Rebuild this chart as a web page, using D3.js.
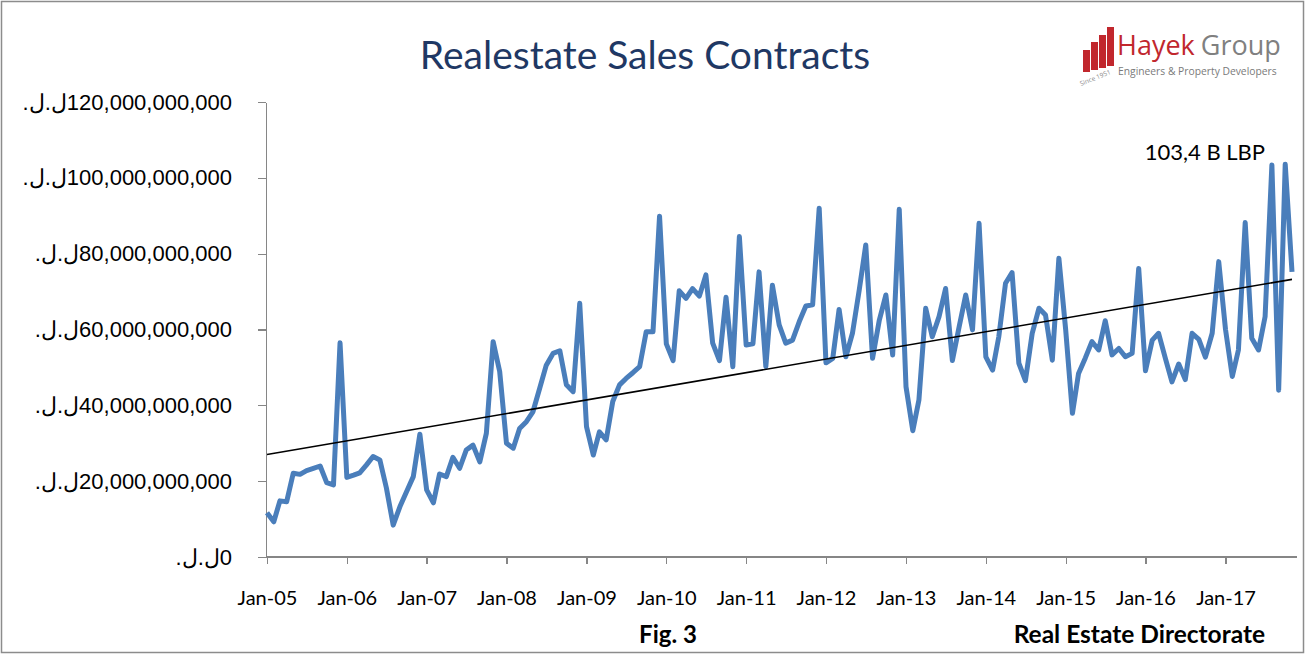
<!DOCTYPE html>
<html lang="en">
<head>
<meta charset="utf-8">
<title>Realestate Sales Contracts</title>
<script src="https://cdnjs.cloudflare.com/ajax/libs/d3/7.8.5/d3.min.js"></script>
<style>
  body { margin: 0; background: #fff; }
  svg { display: block; }
  .axis path, .axis line { stroke: #868686; stroke-width: 1.3px; shape-rendering: crispEdges; }
  .axis--y text { font-family: "Liberation Sans", Arial, sans-serif; font-size: 22px; fill: #000; }
  .axis--x text { font-family: Lato, sans-serif; font-size: 20px; fill: #000; }
  .line { fill: none; stroke: #4a7ebb; stroke-width: 5px; stroke-linejoin: round; }
  .trend { fill: none; stroke: #000; stroke-width: 1.6px; }
</style>
</head>
<body>
<script>
// monthly sales contracts, billions of LBP
var years = [2005, 2006, 2007, 2008, 2009, 2010, 2011, 2012, 2013, 2014, 2015, 2016, 2017];
var s2005 = [11.7, 9.3, 14.8, 14.6, 22.1, 21.8, 22.8, 23.4, 24.0, 19.6, 19.0, 56.5];
var s2006 = [21.0, 21.6, 22.2, 24.3, 26.5, 25.6, 18.2, 8.4, 13.3, 17.2, 21.2, 32.4];
var s2007 = [17.7, 14.3, 21.9, 21.2, 26.3, 23.4, 28.2, 29.5, 25.1, 32.6, 56.8, 48.9];
var s2008 = [30.0, 28.7, 33.9, 35.7, 38.3, 44.5, 50.6, 53.7, 54.4, 45.4, 43.6, 66.9];
var s2009 = [34.4, 26.9, 33.0, 30.9, 41.0, 45.4, 47.1, 48.6, 50.2, 59.4, 59.4, 89.9];
var s2010 = [56.2, 51.8, 70.2, 68.2, 70.8, 68.8, 74.4, 56.4, 51.8, 68.5, 50.2, 84.5];
var s2011 = [55.9, 56.2, 75.2, 50.2, 71.7, 61.2, 56.4, 57.2, 62.1, 66.2, 66.5, 92.0];
var s2012 = [51.2, 52.4, 65.3, 52.8, 59.0, 70.4, 82.3, 52.4, 62.5, 69.1, 53.3, 91.7];
var s2013 = [44.9, 33.3, 41.4, 65.6, 58.1, 63.4, 70.8, 51.8, 60.7, 69.1, 59.9, 88.0];
var s2014 = [52.8, 49.3, 58.0, 72.2, 75.0, 51.1, 46.5, 59.0, 65.6, 63.8, 51.9, 78.8];
var s2015 = [60.0, 37.9, 48.4, 52.5, 56.8, 54.6, 62.3, 53.3, 55.0, 52.8, 53.7, 76.1];
var s2016 = [49.1, 57.2, 59.0, 52.4, 46.2, 50.9, 46.8, 59.0, 57.4, 52.7, 59.0, 77.9];
var s2017 = [60.0, 47.6, 54.6, 88.2, 57.7, 54.6, 63.4, 103.4, 44.0, 103.6, 75.2];
var salesByYear = [s2005, s2006, s2007, s2008, s2009, s2010, s2011, s2012, s2013, s2014, s2015, s2016, s2017];

var yTicks = [0, 20e9, 40e9, 60e9, 80e9, 100e9, 120e9];
var xTickLabels = ["Jan-05", "Jan-06", "Jan-07", "Jan-08", "Jan-09", "Jan-10", "Jan-11",
                   "Jan-12", "Jan-13", "Jan-14", "Jan-15", "Jan-16", "Jan-17"];
var peakLabel = "103,4 B LBP";

var data = [];
salesByYear.forEach(function(vals, k) {
  vals.forEach(function(v, m) {
    data.push({date: new Date(years[k], m, 1), value: v * 1e9});
  });
});

var svg = d3.select("body").append("svg")
    .attr("width", 1309)
    .attr("height", 656);

// chart frame
svg.append("rect")
    .attr("x", 1.5).attr("y", 1.5)
    .attr("width", 1302).attr("height", 651)
    .attr("fill", "#fff")
    .attr("stroke", "#8c8c8c")
    .attr("stroke-width", 1.5);

var x = d3.scaleTime()
    .domain([data[0].date, data[data.length - 1].date])
    .range([267, 1292]);

var y = d3.scaleLinear()
    .domain([0, 120e9])
    .range([557, 102]);

var fmt = d3.format(",");

svg.append("g")
    .attr("class", "axis axis--y")
    .attr("transform", "translate(266,0)")
    .call(d3.axisLeft(y)
        .tickValues(yTicks)
        .tickSize(8)
        .tickSizeOuter(0)
        .tickPadding(26)
        .tickFormat(function(d) { return "\u202D.\u0644.\u0644" + fmt(d) + "\u202C"; }));

var xTickDates = xTickLabels.map(function(l, i) { return new Date(years[i], 0, 1); });

var xAxis = svg.append("g")
    .attr("class", "axis axis--x")
    .attr("transform", "translate(0,557)")
    .call(d3.axisBottom(x)
        .tickValues(xTickDates)
        .tickSize(7)
        .tickSizeOuter(0)
        .tickPadding(27)
        .tickFormat(function(d, i) { return xTickLabels[i]; }));

xAxis.select(".domain").remove();
xAxis.append("line")
    .attr("x1", 266).attr("x2", 1297)
    .attr("y1", 0).attr("y2", 0);

// linear trend (least squares on month index)
var n = data.length;
var mx = (n - 1) / 2;
var my = d3.mean(data, function(d) { return d.value; });
var sxy = d3.sum(data, function(d, i) { return (i - mx) * (d.value - my); });
var sxx = d3.sum(data, function(d, i) { return (i - mx) * (i - mx); });
var slope = sxy / sxx;
var trend = [0, n - 1].map(function(i) {
  return {date: data[i].date, value: my + slope * (i - mx)};
});

var line = d3.line()
    .x(function(d) { return x(d.date); })
    .y(function(d) { return y(d.value); });

svg.append("path")
    .datum(data)
    .attr("class", "line")
    .attr("d", line);

svg.append("path")
    .datum(trend)
    .attr("class", "trend")
    .attr("d", line);

// title & captions
svg.append("text")
    .attr("x", 645).attr("y", 69)
    .attr("text-anchor", "middle")
    .style("font-family", "Lato, sans-serif")
    .style("font-size", "39px")
    .style("fill", "#1f3864")
    .text("Realestate Sales Contracts");

svg.append("text")
    .attr("x", 1265).attr("y", 160)
    .attr("text-anchor", "end")
    .style("font-family", "Lato, sans-serif")
    .style("font-size", "22px")
    .text(peakLabel);

svg.append("text")
    .attr("x", 668).attr("y", 643)
    .attr("text-anchor", "middle")
    .style("font-family", "Lato, sans-serif")
    .style("font-size", "24px")
    .style("font-weight", "bold")
    .text("Fig. 3");

svg.append("text")
    .attr("x", 1265).attr("y", 643)
    .attr("text-anchor", "end")
    .style("font-family", "Lato, sans-serif")
    .style("font-size", "24.5px")
    .style("font-weight", "bold")
    .text("Real Estate Directorate");

// logo
var logo = svg.append("g");
var bars = [[1083, 50, 7, 22], [1091, 42, 7, 28], [1099, 35, 7, 33], [1107, 27, 7, 39]];
logo.selectAll("rect").data(bars).enter().append("rect")
    .attr("x", function(d) { return d[0]; })
    .attr("y", function(d) { return d[1]; })
    .attr("width", function(d) { return d[2]; })
    .attr("height", function(d) { return d[3]; })
    .attr("fill", "#c1272d");
logo.append("text")
    .attr("x", 1117).attr("y", 55)
    .style("font-family", "'Open Sans', sans-serif")
    .style("font-size", "27px")
    .style("fill", "#c1272d")
    .text("Hayek")
  .append("tspan")
    .attr("dx", 6)
    .style("fill", "#808080")
    .text("Group");
logo.append("text")
    .attr("x", 1118).attr("y", 75)
    .style("font-family", "'Open Sans', sans-serif")
    .style("font-size", "10.3px")
    .style("fill", "#7a7a7a")
    .text("Engineers & Property Developers");
logo.append("text")
    .attr("transform", "translate(1081,86) rotate(-22)")
    .style("font-family", "'Open Sans', sans-serif")
    .style("font-size", "6.5px")
    .style("fill", "#8a8a8a")
    .text("Since 1951");
</script>
</body>
</html>
